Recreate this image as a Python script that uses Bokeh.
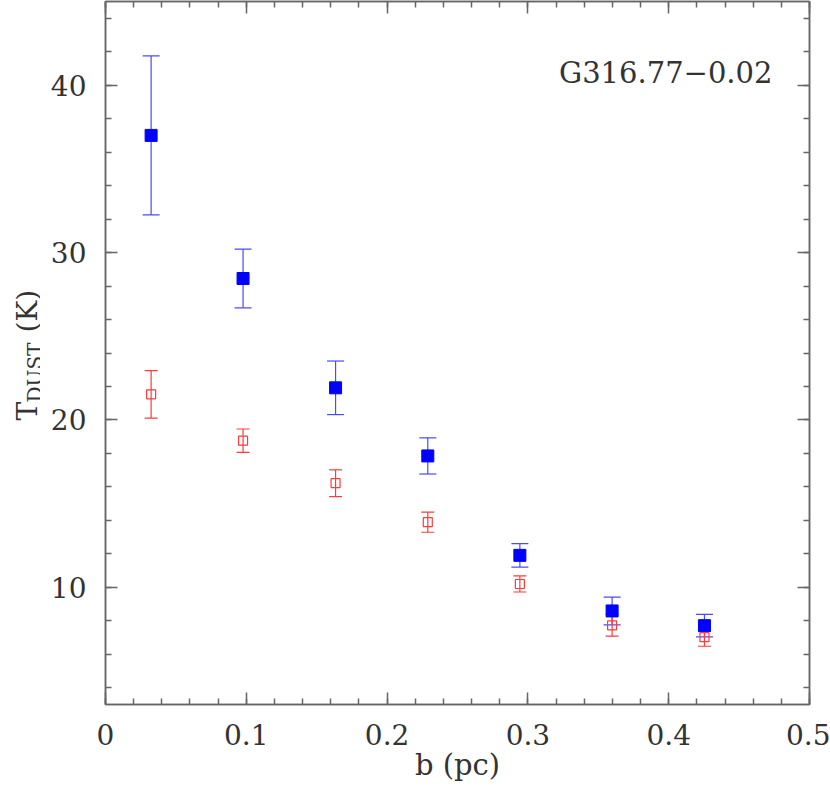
import math
from bokeh.plotting import figure
from bokeh.layouts import row
from bokeh.models import (ColumnDataSource, Whisker, TeeHead, LinearAxis, Range1d,
                          SingleIntervalTicker, CustomJSTickFormatter, Label)
from bokeh.core.properties import value
from bokeh.embed import file_html
from bokeh.resources import INLINE

# ---- data ----
b_pc = [0.0324, 0.0977, 0.1634, 0.2289, 0.2943, 0.3598, 0.4254]
t_blue = [37.0, 28.45, 21.92, 17.85, 11.91, 8.59, 7.71]
err_blue = [4.75, 1.75, 1.60, 1.08, 0.70, 0.83, 0.67]
t_red = [21.53, 18.76, 16.22, 13.89, 10.20, 7.73, 7.02]
err_red = [1.42, 0.70, 0.80, 0.60, 0.48, 0.65, 0.54]
source_name = "G316.77\u22120.02"
x_title = "b (pc)"
y_title_parts = ["T", "DUST", "(K)"]

FONT = "DejaVu Serif"
TXT = "#333333"
AX = "#666666"

blue = ColumnDataSource(dict(x=b_pc, y=t_blue,
                             lo=[v - e for v, e in zip(t_blue, err_blue)],
                             hi=[v + e for v, e in zip(t_blue, err_blue)]))
red = ColumnDataSource(dict(x=b_pc, y=t_red,
                            lo=[v - e for v, e in zip(t_red, err_red)],
                            hi=[v + e for v, e in zip(t_red, err_red)]))

W_LAB = 40
TOTAL_W, TOTAL_H = 830, 787

p = figure(width=TOTAL_W - W_LAB, height=TOTAL_H, output_backend="svg",
           toolbar_location=None, title=None,
           x_range=Range1d(0, 0.5), y_range=Range1d(3, 45),
           x_axis_location=None, y_axis_location=None,
           min_border_left=65, min_border_right=21, min_border_top=1,
           min_border_bottom=83, background_fill_color="white",
           border_fill_color="white")
p.outline_line_color = AX
p.outline_line_width = 1.5
p.xgrid.visible = False
p.ygrid.visible = False

fmt = CustomJSTickFormatter(code="return String(Number(tick.toFixed(3)));")
blank = CustomJSTickFormatter(code="return '';")


def make_axis(ticker, formatter, labels=True):
    ax = LinearAxis(ticker=ticker, formatter=formatter)
    ax.axis_line_color = AX
    ax.axis_line_width = 1.5
    ax.major_tick_line_color = AX
    ax.minor_tick_line_color = AX
    ax.major_tick_line_width = 1.5
    ax.minor_tick_line_width = 1.5
    ax.major_tick_in = 12
    ax.major_tick_out = 0
    ax.minor_tick_in = 6
    ax.minor_tick_out = 0
    ax.major_label_text_font = FONT
    ax.major_label_text_font_size = "28px"
    ax.major_label_text_color = TXT
    if not labels:
        ax.major_label_standoff = 0
    return ax


xt = lambda: SingleIntervalTicker(interval=0.1, num_minor_ticks=5)
yt = lambda: SingleIntervalTicker(interval=10, num_minor_ticks=5)

xb = make_axis(xt(), fmt)
xb.major_label_standoff = 19
xb.axis_label = x_title
xb.axis_label_standoff = 0
xb.axis_label_text_font = FONT
xb.axis_label_text_font_size = "29px"
xb.axis_label_text_font_style = "normal"
xb.axis_label_text_color = TXT
p.add_layout(xb, "below")
yl = make_axis(yt(), fmt)
yl.major_label_standoff = 19
yl.major_label_orientation = "horizontal"
p.add_layout(yl, "left")
p.add_layout(make_axis(xt(), blank, False), "above")
p.add_layout(make_axis(yt(), blank, False), "right")

# blue series (filled squares)
p.add_layout(Whisker(source=blue, base="x", upper="hi", lower="lo",
                     line_color="#4a4aff", line_width=1.2,
                     upper_head=TeeHead(size=17, line_color="#4a4aff", line_width=1.2),
                     lower_head=TeeHead(size=17, line_color="#4a4aff", line_width=1.2)))
p.scatter("x", "y", source=blue, marker="square", size=12,
          fill_color="#0000ff", line_color="#0000ff")

# red series (open squares)
p.add_layout(Whisker(source=red, base="x", upper="hi", lower="lo",
                     line_color="#ff3a3a", line_width=1.2,
                     upper_head=TeeHead(size=13, line_color="#ff3a3a", line_width=1.2),
                     lower_head=TeeHead(size=13, line_color="#ff3a3a", line_width=1.2)))
p.scatter("x", "y", source=red, marker="square", size=9,
          fill_color=None, line_color="#ff3a3a", line_width=1.2)

# source name
p.add_layout(Label(x=0.4737, y=40.7, text=source_name, text_align="right",
                   text_baseline="alphabetic", text_font=FONT,
                   text_font_size="29px", text_color=TXT))

# y axis title in a narrow side panel: T_DUST (K)
lab = figure(frame_width=W_LAB, frame_height=TOTAL_H, output_backend="svg",
             toolbar_location=None, title=None,
             x_range=Range1d(0, W_LAB), y_range=Range1d(0, TOTAL_H),
             x_axis_location=None, y_axis_location=None, min_border=0,
             background_fill_color="white", border_fill_color="white")
lab.outline_line_color = None
lab.xgrid.visible = False
lab.ygrid.visible = False
ang = math.pi / 2
lab.text(x=[27], y=[TOTAL_H - 419], text=[y_title_parts[0]], angle=ang,
         text_align="left", text_baseline="alphabetic", text_font=value(FONT),
         text_font_size="28px", text_color=TXT)
lab.text(x=[34], y=[TOTAL_H - 401], text=[y_title_parts[1]], angle=ang,
         text_align="left", text_baseline="alphabetic", text_font=value(FONT),
         text_font_size="20px", text_color=TXT)
lab.text(x=[27], y=[TOTAL_H - 331], text=[y_title_parts[2]], angle=ang,
         text_align="left", text_baseline="alphabetic", text_font=value(FONT),
         text_font_size="28px", text_color=TXT)

layout = row(lab, p)
open("out.html", "w").write(file_html(layout, INLINE))
